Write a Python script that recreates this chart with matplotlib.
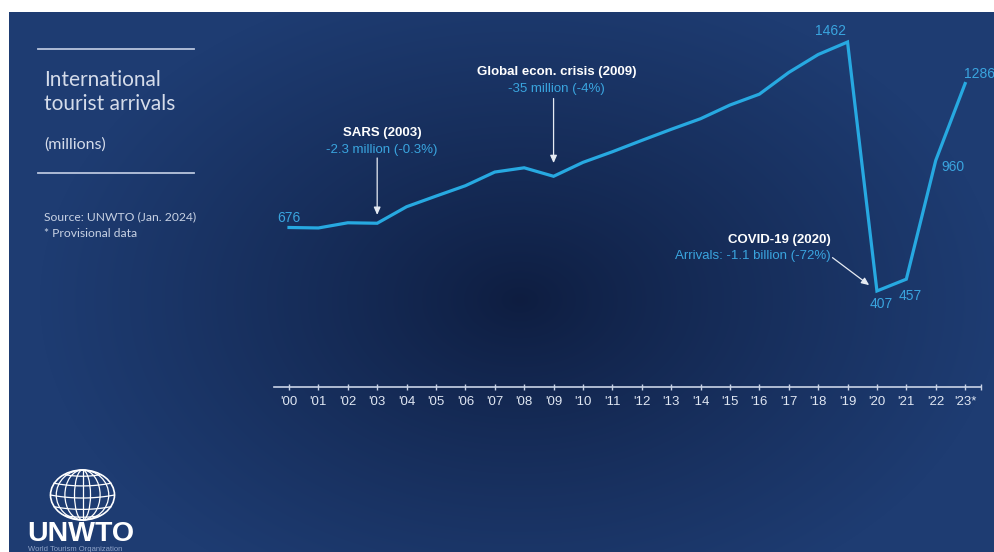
import numpy as np
import matplotlib.pyplot as plt
from matplotlib.patches import Ellipse


# ===== Data =====
YEARS = list(range(2000, 2024))
ARRIVALS = [676, 674, 696, 694, 764, 809, 853, 911, 929, 893, 952, 997,
            1045, 1092, 1137, 1195, 1241, 1333, 1409, 1462, 407, 457, 960, 1286]
TICK_LABELS = ["'00", "'01", "'02", "'03", "'04", "'05", "'06", "'07",
               "'08", "'09", "'10", "'11", "'12", "'13", "'14", "'15",
               "'16", "'17", "'18", "'19", "'20", "'21", "'22", "'23*"]

LABEL_YEARS = [2000, 2019, 2020, 2021, 2022, 2023]

EVENT_YEARS = [2003, 2009, 2020]
EVENT_TITLES = ["SARS (2003)", "Global econ. crisis (2009)", "COVID-19 (2020)"]
EVENT_NOTES = ["-2.3 million (-0.3%)", "-35 million (-4%)",
               "Arrivals: -1.1 billion (-72%)"]

# ===== Layout (pixels / points) =====
W, H = 994, 552
LINE_C = "#27a9e1"
LABEL_C = "#3aa5df"
AXIS_C = "#c9d3e6"
SANS = ["Liberation Sans", "DejaVu Sans"]
NARROW = ["Liberation Sans Narrow", "Liberation Sans", "DejaVu Sans"]

# value label offsets: dx, dy (pt), ha, va
LABEL_POS = {
    2000: (0, 2, "center", "bottom"),
    2019: (-1, 3, "right", "bottom"),
    2020: (3, -4, "center", "top"),
    2021: (3, -7, "center", "top"),
    2022: (4, -5, "left", "center"),
    2023: (-0.5, 1.5, "left", "bottom"),
}
# event layout: title dx, title dy, note dy, ha, arrow dx, arrow dy, shrink
EVENT_POS = [
    (3.5, 65, 53, "center", 0, 47, 6),
    (2, 75, 63, "center", 0, 56, 9.5),
    (-33, 37, 25.5, "right", -32, 24, 7),
]

fig = plt.figure(figsize=(W / 100, H / 100), dpi=100)
fig.patch.set_facecolor("white")

# ===== Background =====
bg = fig.add_axes([0, 0, 1, 1])
bg.set_xlim(0, W)
bg.set_ylim(H, 0)
bg.axis("off")

yy, xx = np.mgrid[12:H, 9:W] + 0.5
d = np.sqrt(((xx - 520) / 480) ** 2 + ((yy - 300) / 330) ** 2)
t = np.clip(d, 0, 1) ** 0.85
edge = np.array([0x1e, 0x3c, 0x72]) / 255
mid = np.array([0x0e, 0x1d, 0x40]) / 255
img = mid + (edge - mid) * t[..., None]
bg.imshow(img, extent=(9, W, H, 12), aspect="auto", interpolation="bilinear")

# left text block
bg.plot([38, 194], [49, 49], color="#b9c5dd", lw=1.3)
bg.plot([38, 194], [173, 173], color="#b9c5dd", lw=1.3)
bg.text(44, 86, "International", fontsize=15, family="Lato",
        color="#d5dcea", va="baseline")
bg.text(44, 110, "tourist arrivals", fontsize=15, family="Lato",
        color="#d5dcea", va="baseline")
bg.text(44, 149, "(millions)", fontsize=11.5, family="Lato",
        color="#d5dcea", va="baseline")
bg.text(44, 220.5, "Source: UNWTO (Jan. 2024)", fontsize=8.7, family="Lato",
        color="#c8d2e4", va="baseline")
bg.text(44, 237, "* Provisional data", fontsize=8.7, family="Lato",
        color="#c8d2e4", va="baseline")

# logo
gx, gy, rx, ry = 82.5, 495, 32, 25
bg.add_patch(Ellipse((gx, gy), 2 * rx, 2 * ry, fill=False, ec="white", lw=1.2))
for f in [0.25, 0.55, 0.82]:
    bg.add_patch(Ellipse((gx, gy), 2 * rx * f, 2 * ry, fill=False,
                         ec="white", lw=0.9))
bg.plot([gx, gx], [gy - ry, gy + ry], color="white", lw=0.9)
for lat in [-55, -28, 0, 28, 55]:
    w = rx * np.cos(np.radians(lat))
    xs = np.linspace(-w, w, 40)
    ys = gy - ry * np.sin(np.radians(lat)) + 3 * np.cos(np.radians(lat)) * (1 - (xs / w) ** 2)
    bg.plot(gx + xs, ys, color="white", lw=0.9)
bg.text(27, 541, "UNWTO", fontsize=20.5, fontweight="bold", family=SANS,
        color="white", va="baseline")
bg.text(28, 546, "World Tourism Organization", fontsize=5.5, family=SANS,
        color="#8fa3c8", va="top")

# ===== Chart =====
ax = fig.add_axes([274 / W, (H - 387) / H, (981 - 274) / W, 357 / H])
ax.patch.set_alpha(0)
ax.set_xlim(1999.49, 2023.54)
ax.set_ylim(0, 1513)

ax.plot(YEARS, ARRIVALS, color=LINE_C, lw=2.3, solid_joinstyle="miter")

for s in ["top", "right", "left"]:
    ax.spines[s].set_visible(False)
ax.spines["bottom"].set_color(AXIS_C)
ax.spines["bottom"].set_linewidth(1.2)
ax.set_yticks([])
ax.set_xticks(YEARS, TICK_LABELS)
ax.set_xticks([2023.54], minor=True)
ax.tick_params(axis="x", which="both", direction="inout", length=5,
               width=1, color=AXIS_C, labelcolor="#dfe6f2",
               labelsize=9.5, pad=4)
for lab in ax.get_xticklabels():
    lab.set_family(NARROW)

for yr in LABEL_YEARS:
    v = ARRIVALS[YEARS.index(yr)]
    dx, dy, ha, va = LABEL_POS[yr]
    ax.annotate(str(v), (yr, v), xytext=(dx, dy), textcoords="offset points",
                ha=ha, va=va, color=LABEL_C, fontsize=10, family=SANS)

for yr, title, note, pos in zip(EVENT_YEARS, EVENT_TITLES, EVENT_NOTES, EVENT_POS):
    v = ARRIVALS[YEARS.index(yr)]
    tdx, tdy, ndy, ha, adx, ady, shr = pos
    ax.annotate(title, (yr, v), xytext=(tdx, tdy), textcoords="offset points",
                ha=ha, va="center", color="white", fontsize=9.5,
                fontweight="bold", family=SANS)
    ax.annotate(note, (yr, v), xytext=(tdx, ndy), textcoords="offset points",
                ha=ha, va="center", color=LABEL_C, fontsize=9.5, family=SANS)
    ax.annotate("", (yr, v), xytext=(adx, ady), textcoords="offset points",
                arrowprops=dict(arrowstyle="-|>,head_length=0.45,head_width=0.2",
                                color="#e6ebf3", lw=0.9, shrinkA=0, shrinkB=shr))

fig.savefig("out.png", dpi=100, facecolor=fig.get_facecolor())
